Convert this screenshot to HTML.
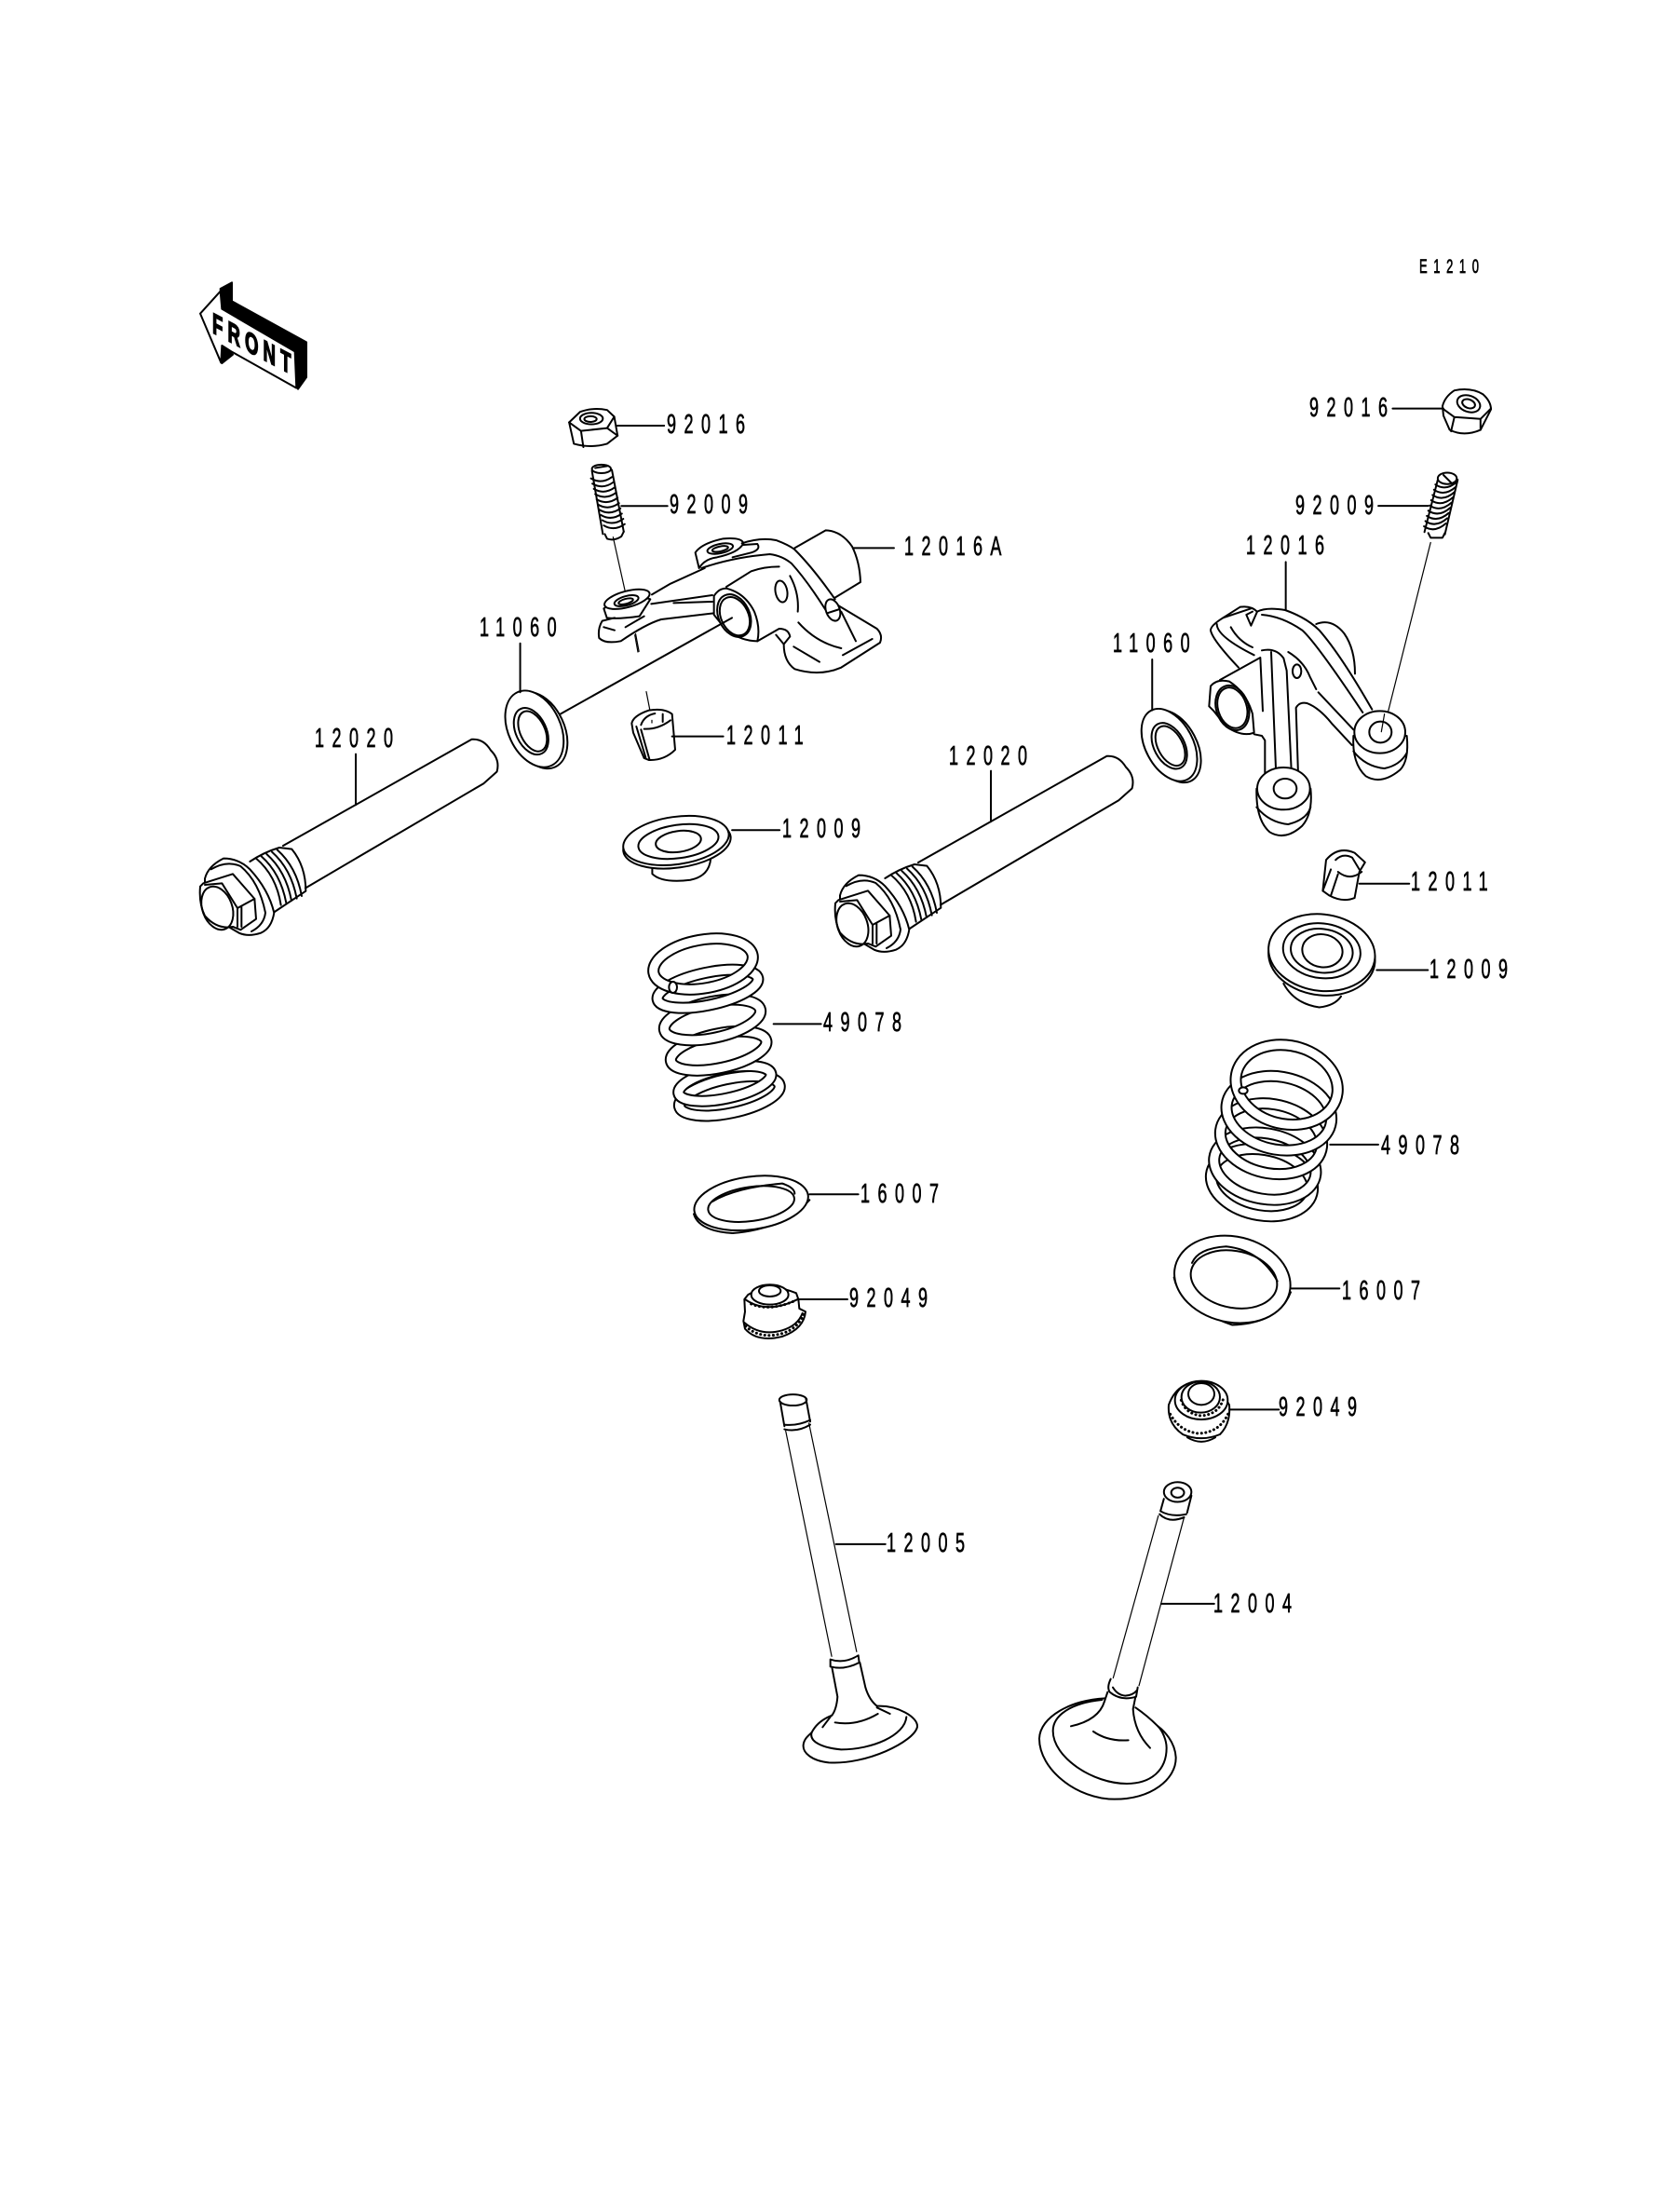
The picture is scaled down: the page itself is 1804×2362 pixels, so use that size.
<!DOCTYPE html>
<html>
<head>
<meta charset="utf-8">
<style>
html,body{margin:0;padding:0;background:#fff;width:1804px;height:2362px;overflow:hidden}
svg{display:block}
svg *{vector-effect:non-scaling-stroke}
.p path,.p ellipse,.p polygon{fill:none;stroke:#000;stroke-width:2;stroke-linejoin:round;stroke-linecap:round}
.p .w{fill:#fff}
.p .t{stroke-width:1.2}
.p .tb{stroke-width:13;fill:none;stroke:#000}
.p .tw{stroke-width:9;fill:none;stroke:#fff}
.p .b{stroke-width:3;stroke-dasharray:.1 4.5}
.p .k{fill:#000;stroke:#000}
text{font-family:"Liberation Sans",sans-serif;font-size:29px;letter-spacing:13.7px;fill:#000;stroke:#000;stroke-width:.6}
.sm{font-size:21px;letter-spacing:10.6px}
</style>
</head>
<body>
<svg class="p" width="1804" height="2362" viewBox="0 0 1804 2362" xmlns="http://www.w3.org/2000/svg">

<!-- FRONT arrow -->
<g transform="translate(200 290) scale(.3333)">
  <polygon class="k" points="110,60 147,40 147,100 387,232 387,345 360,383 350,262 115,125"/>
  <polygon class="k" points="115,245 150,272 115,300"/>
  <polygon class="w" points="45,140 110,68 115,125 350,262 355,380 145,262 115,243 112,298"/>
</g>
<text transform="translate(228 357) skewY(28) scale(.6 1)" style="font-size:31px;letter-spacing:8.5px;font-weight:700;stroke-width:1.4">FRONT</text>

<!-- ZONE 1 -->
<g transform="translate(180 280) scale(.5102)">
  <!-- nut -->
  <path class="w" d="M845,340 L868,318 Q895,308 925,314 L940,328 L947,368 L925,385 Q890,395 855,385 Z"/>
  <ellipse cx="892" cy="332" rx="24" ry="12"/><ellipse cx="890" cy="333" rx="13" ry="6"/>
  <path d="M845,340 L870,358 L925,352 L940,328 M870,358 L875,392 M925,352 L947,368 M945,347 H1045"/>
  <!-- stud -->
  <ellipse cx="913" cy="438" rx="20" ry="9"/>
  <path d="M900,436 L925,432 M893,442 L916,575 M935,440 L960,570"/>
  <path d="M891,458 q22,13 44,-3 m-41,14 q22,13 44,-3 m-41,14 q22,13 44,-3 m-41,14 q22,13 44,-3 m-41,14 q22,13 44,-3 m-41,14 q22,13 44,-3 m-41,14 q22,13 44,-3 m-41,14 q22,13 44,-3 m-41,14 q22,13 44,-3 m-41,14 q22,13 44,-3"/>
  <path d="M920,575 L925,585 Q940,590 955,580 L960,570 M955,516 H1052"/>
  <path class="t" d="M985,785 L992,822"/>
  <!-- washer -->
  <ellipse class="w" cx="780" cy="988" rx="55" ry="85" transform="rotate(-25 780 988)"/>
  <ellipse class="w" cx="772" cy="985" rx="55" ry="85" transform="rotate(-25 772 985)"/>
  <ellipse cx="765" cy="990" rx="32" ry="52" transform="rotate(-25 765 990)"/>
  <ellipse cx="768" cy="990" rx="26" ry="45" transform="rotate(-25 768 990)"/>
  <path d="M742,805 V908"/>
  <!-- retainer -->
  <path d="M1020,1275 V1290 Q1040,1310 1100,1303 Q1140,1295 1143,1258"/>
  <ellipse class="w" cx="1072" cy="1227" rx="114" ry="50" transform="rotate(-8 1072 1227)"/>
  <ellipse class="w" cx="1070" cy="1220" rx="112" ry="50" transform="rotate(-8 1070 1220)"/>
  <ellipse cx="1075" cy="1222" rx="85" ry="35" transform="rotate(-8 1075 1222)"/>
  <ellipse cx="1075" cy="1222" rx="48" ry="22" transform="rotate(-8 1075 1222)"/>
  <path d="M1188,1198 H1288"/>
</g>

<!-- left rocker 12016A + keeper -->
<g transform="translate(620 560) scale(.3333)">
  <path d="M700,85 L800,28 Q850,30 885,80 Q910,130 912,195 L830,245 M890,85 H1020"/>
  <path class="t" d="M115,50 L155,230 M222,548 L240,640"/>
  <path class="w" d="M380,100 Q400,70 470,55 Q530,50 535,70 Q520,100 450,115 Q410,120 392,150 L380,100Z"/>
  <ellipse cx="460" cy="87" rx="42" ry="15" transform="rotate(-12 460 87)"/>
  <ellipse cx="460" cy="88" rx="26" ry="8" transform="rotate(-12 460 88)"/>
  <path d="M530,70 Q590,50 640,60 Q680,75 700,90 Q760,150 830,250 M535,75 L580,72 Q592,90 560,100 L500,115 M400,150 Q500,115 620,105 Q660,110 690,135 Q740,190 800,285 M240,235 L300,200 L410,150"/>
  <path class="w" d="M85,280 L95,310 Q130,315 200,305 L235,250 L160,230Z"/>
  <ellipse class="w" cx="160" cy="250" rx="75" ry="26" transform="rotate(-15 160 250)"/>
  <ellipse cx="158" cy="255" rx="40" ry="15" transform="rotate(-15 158 255)"/>
  <ellipse cx="156" cy="257" rx="24" ry="8" transform="rotate(-15 156 257)"/>
  <path d="M238,265 L435,237 M310,262 L435,258"/>
  <path d="M440,295 L270,315 Q220,330 140,385 Q90,395 70,375 Q65,345 80,320 L120,310 M85,340 L120,350 M155,340 L215,305"/>
  <path class="t" d="M185,365 L195,420"/>
  <path class="w" d="M440,240 Q455,215 480,215 Q540,230 570,290 Q590,340 580,385 Q530,385 480,350 L440,300 Z"/>
  <ellipse class="w" cx="505" cy="303" rx="50" ry="72" transform="rotate(-25 505 303)"/>
  <ellipse cx="507" cy="305" rx="44" ry="65" transform="rotate(-25 507 305)"/>
  <path d="M480,210 L560,160 Q600,145 650,145 M580,385 L650,345 Q680,345 685,370 L665,395 L640,365 M665,395 Q665,450 700,475 Q780,500 850,470 L975,390 Q985,365 965,345 L840,270"/>
  <ellipse cx="657" cy="225" rx="19" ry="35" transform="rotate(-10 657 225)"/>
  <path d="M685,175 Q715,230 710,290 M712,325 Q770,390 850,408 M697,403 L780,452 M855,430 L950,378 M850,290 L897,385"/>
  <ellipse class="w" cx="823" cy="285" rx="22" ry="36" transform="rotate(-20 823 285)"/>
  <path d="M805,295 L845,282"/>
  <path d="M-57,621 L498,310"/>
  <!-- keeper -->
  <path class="w" d="M175,650 Q180,625 230,608 Q280,600 305,620 L315,735 Q280,770 230,768 L215,762 L180,680 Z"/>
  <path d="M205,655 Q215,625 250,618 M215,668 Q260,670 300,640 M205,670 L232,765 M190,660 L220,760 M275,620 V645 M305,692 H470"/>
  <path class="t" d="M240,640 L240,648"/>
</g>

<!-- ZONE 2 -->
<g transform="translate(850 260) scale(.5102)">
  <!-- nut -->
  <path class="w" d="M1370,345 Q1375,325 1395,312 Q1430,305 1455,320 Q1472,335 1472,352 L1450,395 Q1415,410 1385,395 L1372,365 Z"/>
  <ellipse cx="1425" cy="340" rx="25" ry="17" transform="rotate(20 1425 340)"/>
  <ellipse cx="1425" cy="340" rx="14" ry="9" transform="rotate(20 1425 340)"/>
  <path d="M1370,350 L1395,368 L1450,372 L1472,350 M1395,368 L1388,398 M1450,372 V395 M1265,350 H1372"/>
  <!-- stud -->
  <ellipse cx="1380" cy="497" rx="20" ry="12"/>
  <path d="M1360,500 L1332,610 M1402,500 L1375,615 M1372,490 L1392,510"/>
  <path d="M1355,510 q22,15 46,-6 m-49,17 q22,15 46,-6 m-49,17 q22,15 46,-6 m-49,17 q22,15 46,-6 m-49,17 q22,15 46,-6 m-49,17 q22,15 46,-6 m-49,17 q22,15 46,-6 m-49,17 q22,15 46,-6 m-49,17 q22,15 46,-6"/>
  <path d="M1340,612 L1345,622 L1370,622 L1375,612 M1235,555 H1340"/>
  <path class="t" d="M1345,632 L1245,1030"/>
  <!-- washer -->
  <ellipse class="w" cx="803" cy="1061" rx="50" ry="82" transform="rotate(-28 803 1061)"/>
  <ellipse class="w" cx="795" cy="1058" rx="50" ry="82" transform="rotate(-28 795 1058)"/>
  <ellipse cx="795" cy="1060" rx="32" ry="52" transform="rotate(-28 795 1060)"/>
  <ellipse cx="797" cy="1060" rx="26" ry="45" transform="rotate(-28 797 1060)"/>
  <path d="M759,878 V985"/>
  <!-- keeper -->
  <path class="w" d="M1118,1365 L1125,1300 Q1150,1270 1185,1285 L1207,1305 L1195,1325 L1185,1380 Q1160,1390 1132,1375 Z"/>
  <path d="M1145,1300 Q1160,1285 1180,1295 L1195,1320 M1150,1325 Q1175,1345 1200,1325 M1150,1330 L1135,1375 M1135,1320 L1118,1365 M1195,1350 H1300"/>
</g>

<!-- right rocker 12016 -->
<g transform="translate(1270 620) scale(.3333)">
  <path d="M332,-50 V105"/>
  <path d="M430,150 Q480,130 520,180 Q555,230 555,310"/>
  <path d="M90,170 Q90,155 130,130 L185,95 Q220,90 240,110 L220,155 L205,120 L225,110 M240,110 Q270,95 330,105 Q400,130 440,170 Q510,250 610,425 M255,120 Q320,125 385,170 Q430,210 580,435"/>
  <path d="M90,170 Q95,200 180,290 M110,150 Q110,190 230,250 M155,160 Q180,205 225,225 M130,130 L220,100"/>
  <path d="M255,235 Q300,225 325,260 L335,300 L350,620 M285,240 L300,615 M340,240 Q390,270 410,320 L430,360 M365,420 Q375,400 400,405 Q440,420 480,470 L545,540 M365,420 L372,635 M437,370 L550,490"/>
  <ellipse cx="368" cy="302" rx="14" ry="22"/>
  <path d="M120,330 L250,258 L258,430"/>
  <path class="w" d="M85,415 L90,350 Q110,325 150,335 Q205,370 225,440 L230,500 Q190,515 140,480 L100,430 Z"/>
  <ellipse cx="160" cy="420" rx="52" ry="74" transform="rotate(-18 160 420)"/>
  <ellipse cx="160" cy="420" rx="46" ry="67" transform="rotate(-18 160 420)"/>
  <path d="M230,505 L255,510 L265,525 V630"/>
  <path class="w" d="M550,510 Q545,600 590,640 Q640,670 700,620 Q730,590 722,510 Z"/>
  <path d="M550,560 Q590,610 650,615 Q700,605 722,565"/>
  <ellipse class="w" cx="635" cy="498" rx="82" ry="68"/>
  <ellipse cx="637" cy="498" rx="36" ry="34"/>
  <path class="t" d="M650,440 L640,497"/>
  <path class="w" d="M238,680 Q235,780 280,820 Q330,850 385,800 Q420,760 412,680 Z"/>
  <path d="M238,740 Q280,790 340,795 Q400,780 412,740"/>
  <ellipse class="w" cx="325" cy="680" rx="85" ry="68"/>
  <ellipse cx="330" cy="680" rx="37" ry="32"/>
</g>

<!-- SHAFTS -->
<g id="sh">
  <g transform="translate(180 280) scale(.5102)">
    <path d="M243,1231 L640,1007 Q665,1005 680,1030 Q700,1050 693,1075 L665,1100 L290,1320"/>
    <path d="M396,1038 V1145"/>
  </g>
  <g transform="translate(200 880) scale(.3333)">
    <path d="M205,135 Q250,105 300,90 L340,95 Q385,150 385,230 L280,300"/>
    <path d="M225,125 Q290,180 305,275 m-63,-157 Q304,173 322,268 m-63,-157 Q321,166 339,261 m-63,-157 Q338,159 356,254 m-63,-157 Q355,152 372,246"/>
    <path class="w" d="M60,190 Q70,150 120,125 Q170,125 205,160 Q265,225 283,300 Q275,350 240,365 Q200,378 170,365 L60,300Z"/>
    <path d="M80,160 Q130,130 175,150 Q235,200 255,300 Q250,340 210,360"/>
    <path class="w" d="M45,215 L55,205 L150,175 L220,255 L225,320 L175,355 L150,345 Q100,355 60,310 Q40,270 45,215Z"/>
    <ellipse cx="100" cy="285" rx="48" ry="72" transform="rotate(-20 100 285)"/>
    <path d="M60,210 L115,205 L165,285 L220,255 M165,285 L165,345 M178,280 L178,345"/>
  </g>
</g>
<use href="#sh" transform="translate(682 18)"/>

<!-- ZONE 3: left spring, washer, seal -->
<g transform="translate(640 960) scale(.3333)">
  <ellipse class="tb" cx="430" cy="650" rx="165" ry="55" transform="rotate(-12 430 650)"/><ellipse class="tw" cx="430" cy="650" rx="165" ry="55" transform="rotate(-12 430 650)"/>
  <ellipse class="tb" cx="415" cy="610" rx="152" ry="48" transform="rotate(-12 415 610)"/><ellipse class="tw" cx="415" cy="610" rx="152" ry="48" transform="rotate(-12 415 610)"/>
  <ellipse class="tb" cx="395" cy="505" rx="157" ry="55" transform="rotate(-12 395 505)"/><ellipse class="tw" cx="395" cy="505" rx="157" ry="55" transform="rotate(-12 395 505)"/>
  <ellipse class="tb" cx="375" cy="405" rx="158" ry="58" transform="rotate(-12 375 405)"/><ellipse class="tw" cx="375" cy="405" rx="158" ry="58" transform="rotate(-12 375 405)"/>
  <ellipse class="tb" cx="360" cy="305" rx="165" ry="52" transform="rotate(-12 360 305)"/><ellipse class="tw" cx="360" cy="305" rx="165" ry="52" transform="rotate(-12 360 305)"/>
  <ellipse class="tb" cx="345" cy="225" rx="162" ry="78" transform="rotate(-10 345 225)"/><ellipse class="tw" cx="345" cy="225" rx="162" ry="78" transform="rotate(-10 345 225)"/>
  <ellipse class="w" cx="248" cy="300" rx="13" ry="18"/>
  <path d="M572,418 H725"/>
  <!-- washer -->
  <path d="M315,1030 Q330,1085 440,1092 Q600,1080 688,985"/>
  <ellipse class="w" cx="500" cy="995" rx="185" ry="85" transform="rotate(-8 500 995)"/>
  <ellipse cx="500" cy="998" rx="140" ry="55" transform="rotate(-8 500 998)"/>
  <path d="M375,990 Q450,945 600,932 Q640,945 640,965"/>
  <path d="M688,967 H845"/>
  <!-- seal -->
  <path class="w" d="M478,1305 L490,1290 Q560,1250 645,1285 L652,1305 L655,1335 L675,1345 Q670,1400 600,1425 Q520,1445 480,1400 L475,1375 L480,1345 Z"/>
  <ellipse class="w" cx="560" cy="1290" rx="60" ry="32"/>
  <ellipse cx="560" cy="1278" rx="35" ry="18"/>
  <path d="M480,1305 Q550,1355 650,1305 M478,1380 Q530,1425 600,1405 Q650,1390 665,1350"/>
  <path class="b" d="M482,1392 Q530,1435 600,1415 Q655,1398 672,1345"/>
  <path class="b" d="M500,1320 Q560,1345 640,1310"/>
  <path d="M652,1305 H810"/>
</g>

<!-- ZONE 4: right retainer, spring, washer -->
<g transform="translate(1230 960) scale(.3333 .392)">
  <path d="M445,245 Q480,300 560,310 Q610,305 630,280"/>
  <ellipse class="w" cx="568" cy="172" rx="172" ry="105" transform="rotate(5 568 172)"/>
  <ellipse class="w" cx="568" cy="160" rx="172" ry="105" transform="rotate(5 568 160)"/>
  <ellipse cx="568" cy="155" rx="125" ry="75" transform="rotate(5 568 155)"/>
  <ellipse cx="568" cy="155" rx="100" ry="60" transform="rotate(5 568 155)"/>
  <ellipse cx="570" cy="155" rx="65" ry="45" transform="rotate(5 570 155)"/>
  <path d="M745,208 H910"/>
  <!-- spring -->
  <ellipse class="tb" cx="375" cy="790" rx="165" ry="90" transform="rotate(8 375 790)"/><ellipse class="tw" cx="375" cy="790" rx="165" ry="90" transform="rotate(8 375 790)"/>
  <ellipse class="tb" cx="385" cy="745" rx="165" ry="90" transform="rotate(8 385 745)"/><ellipse class="tw" cx="385" cy="745" rx="165" ry="90" transform="rotate(8 385 745)"/>
  <ellipse class="tb" cx="405" cy="670" rx="165" ry="95" transform="rotate(8 405 670)"/><ellipse class="tw" cx="405" cy="670" rx="165" ry="95" transform="rotate(8 405 670)"/>
  <ellipse class="tb" cx="430" cy="600" rx="170" ry="100" transform="rotate(8 430 600)"/><ellipse class="tw" cx="430" cy="600" rx="170" ry="100" transform="rotate(8 430 600)"/>
  <ellipse class="tb" cx="455" cy="522" rx="165" ry="108" transform="rotate(8 455 522)"/><ellipse class="tw" cx="455" cy="522" rx="165" ry="108" transform="rotate(8 455 522)"/>
  <ellipse class="w" cx="315" cy="538" rx="14" ry="9"/>
  <path d="M595,686 H750"/>
  <!-- washer -->
  <path d="M92,1050 Q110,1130 280,1180 Q430,1175 468,1090"/>
  <ellipse class="w" cx="280" cy="1055" rx="188" ry="118" transform="rotate(8 280 1055)"/>
  <ellipse cx="285" cy="1055" rx="140" ry="78" transform="rotate(8 285 1055)"/>
  <path d="M150,1010 Q170,970 260,965 Q370,975 425,1060"/>
  <path d="M470,1080 H625"/>
</g>

<!-- right seal -->
<g transform="translate(1240 1465) scale(.3333)">
  <path class="w" d="M45,130 Q40,190 90,225 Q150,250 210,225 Q245,190 240,130 Q200,55 140,55 Q70,60 45,130Z"/>
  <path d="M105,235 Q150,262 195,235"/>
  <path class="b" d="M50,160 Q80,215 140,222 Q210,220 238,155"/>
  <ellipse class="w" cx="150" cy="115" rx="85" ry="62"/>
  <ellipse cx="148" cy="105" rx="62" ry="50"/>
  <ellipse class="w" cx="150" cy="95" rx="42" ry="35"/>
  <path class="b" d="M85,115 Q100,160 150,165 Q210,160 222,105"/>
  <path d="M240,145 H400"/>
</g>

<!-- ZONE 5: valve stems -->
<g transform="translate(780 1450) scale(.4615 .3316)">
  <ellipse class="w" cx="155" cy="160" rx="32" ry="18"/>
  <path d="M125,165 L135,245 M185,155 L195,230 M135,240 Q165,245 195,225 M135,255 Q165,265 195,240"/>
  <path class="t" d="M138,260 L245,990 M192,235 L303,975"/>
  <path d="M255,627 H370"/>
  <ellipse class="w" cx="1050" cy="458" rx="32" ry="32"/>
  <ellipse cx="1050" cy="460" rx="15" ry="16"/>
  <path d="M1018,480 L1010,520 M1082,470 L1072,525 M1010,520 Q1035,540 1070,530 M1008,530 Q1030,560 1065,540"/>
  <path class="t" d="M1005,535 L900,1060 M1065,540 L960,1085"/>
  <path d="M1012,820 H1135"/>
</g>
<!-- 12005 head -->
<g transform="translate(840 1760) scale(.3333)">
  <path d="M155,65 Q200,80 245,52 M155,88 Q200,100 248,75 M155,65 V88 M245,52 L248,75"/>
  <path d="M160,90 L178,185 Q175,225 160,245 M250,75 L268,155 Q280,195 305,215"/>
  <path d="M305,215 C370,212 438,250 435,282 C425,330 270,405 150,397 C95,392 65,365 68,340 C70,320 85,310 95,300 C110,270 135,255 160,245"/>
  <path d="M95,300 C85,330 130,350 190,355 C290,355 395,310 400,250 M130,283 L155,250 M170,268 Q240,280 308,240 M305,220 L347,240"/>
</g>
<!-- 12004 head -->
<g transform="translate(1100 1770) scale(.3333)">
  <path d="M278,98 Q265,125 275,140 Q310,170 360,155 L365,125 M285,125 Q300,150 325,152 Q350,150 362,135"/>
  <path d="M268,140 L258,170 Q240,230 150,250 M358,155 L350,195 Q355,270 405,320 M222,267 Q270,300 335,295"/>
  <path d="M260,160 C150,165 50,220 48,290 C48,390 170,485 290,485 C410,485 490,420 488,350 C485,300 450,265 430,250 C405,225 380,205 358,190"/>
  <path d="M250,165 C150,175 92,215 92,265 C92,350 220,435 330,435 C410,435 458,390 458,320 C458,295 445,265 430,250"/>
</g>

<!-- labels -->
<text transform="translate(1524 293) scale(.62 1)" class="sm">E1210</text>
<text transform="translate(716 465) scale(.62 1)">92016</text>
<text transform="translate(719 551) scale(.62 1)">92009</text>
<text transform="translate(971 596) scale(.62 1)">12016A</text>
<text transform="translate(515 683) scale(.62 1)">11060</text>
<text transform="translate(338 802) scale(.62 1)">12020</text>
<text transform="translate(780 799) scale(.62 1)">12011</text>
<text transform="translate(840 899) scale(.62 1)">12009</text>
<text transform="translate(1406 447) scale(.62 1)">92016</text>
<text transform="translate(1391 552) scale(.62 1)">92009</text>
<text transform="translate(1338 595) scale(.62 1)">12016</text>
<text transform="translate(1195 700) scale(.62 1)">11060</text>
<text transform="translate(1019 821) scale(.62 1)">12020</text>
<text transform="translate(1515 956) scale(.62 1)">12011</text>
<text transform="translate(1535 1050) scale(.62 1)">12009</text>
<text transform="translate(884 1107) scale(.62 1)">49078</text>
<text transform="translate(924 1291) scale(.62 1)">16007</text>
<text transform="translate(912 1403) scale(.62 1)">92049</text>
<text transform="translate(1483 1239) scale(.62 1)">49078</text>
<text transform="translate(1441 1395) scale(.62 1)">16007</text>
<text transform="translate(1373 1520) scale(.62 1)">92049</text>
<text transform="translate(952 1666) scale(.62 1)">12005</text>
<text transform="translate(1303 1731) scale(.62 1)">12004</text>
</svg>
</body>
</html>
